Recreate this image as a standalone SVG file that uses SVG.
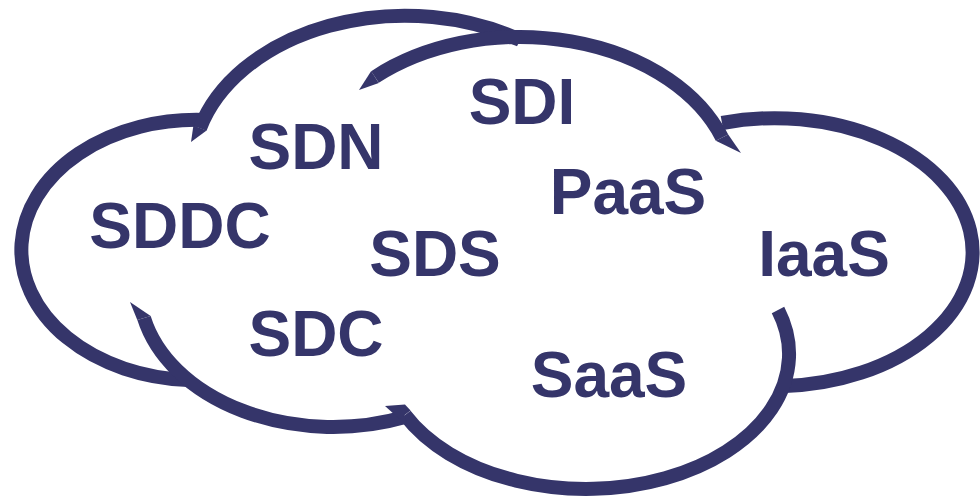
<svg xmlns="http://www.w3.org/2000/svg" width="980" height="498" viewBox="0 0 980 498">
<style>
.lobe{fill:none;stroke:#35356a;stroke-width:14;stroke-linecap:butt}
.tail{fill:#35356a}
.lbl{font-family:"Liberation Sans",Arial,sans-serif;font-weight:bold;font-size:64px;fill:#35356a;text-anchor:middle}
</style>
<rect width="980" height="498" fill="#ffffff"/>
<g id="cloud">
<path id="lobe-left" class="lobe" d="M205,120 A175,130 0 0 0 188,380"/>
<path id="lobe-top-left" class="lobe" d="M200,128.2 A213,154 0 0 1 520,40"/>
<path id="lobe-top" class="lobe" d="M375,77 A215,153 0 0 1 722,137.6"/>
<path id="lobe-right" class="lobe" d="M722,123 A198,134 0 1 1 785,386"/>
<path id="lobe-bottom-right" class="lobe" d="M778,310 A203,135 0 0 1 405,415"/>
<path id="lobe-bottom-left" class="lobe" d="M144,318 A194,140 0 0 0 405,417"/>
<polygon class="tail" points="193.4,125.5 206.6,130.5 191,142"/>
<polygon class="tail" points="371.2,71.1 378.8,82.9 359,90"/>
<polygon class="tail" points="715.8,140.8 728.2,134.4 741,153"/>
<polygon class="tail" points="410.6,410.6 405,404.5 385,406 399.4,419"/>
<polygon class="tail" points="150.7,315.9 137.3,320.1 130,302"/>
</g>
<g id="sdi"><text class="lbl" x="522" y="124">SDI</text></g>
<g id="sdn"><text class="lbl" x="316" y="169">SDN</text></g>
<g id="paas"><text class="lbl" x="628" y="214">PaaS</text></g>
<g id="sddc"><text class="lbl" x="180" y="248">SDDC</text></g>
<g id="sds"><text class="lbl" x="435" y="276">SDS</text></g>
<g id="iaas"><text class="lbl" x="824" y="276">IaaS</text></g>
<g id="sdc"><text class="lbl" x="316" y="356">SDC</text></g>
<g id="saas"><text class="lbl" x="609" y="397">SaaS</text></g>
</svg>
